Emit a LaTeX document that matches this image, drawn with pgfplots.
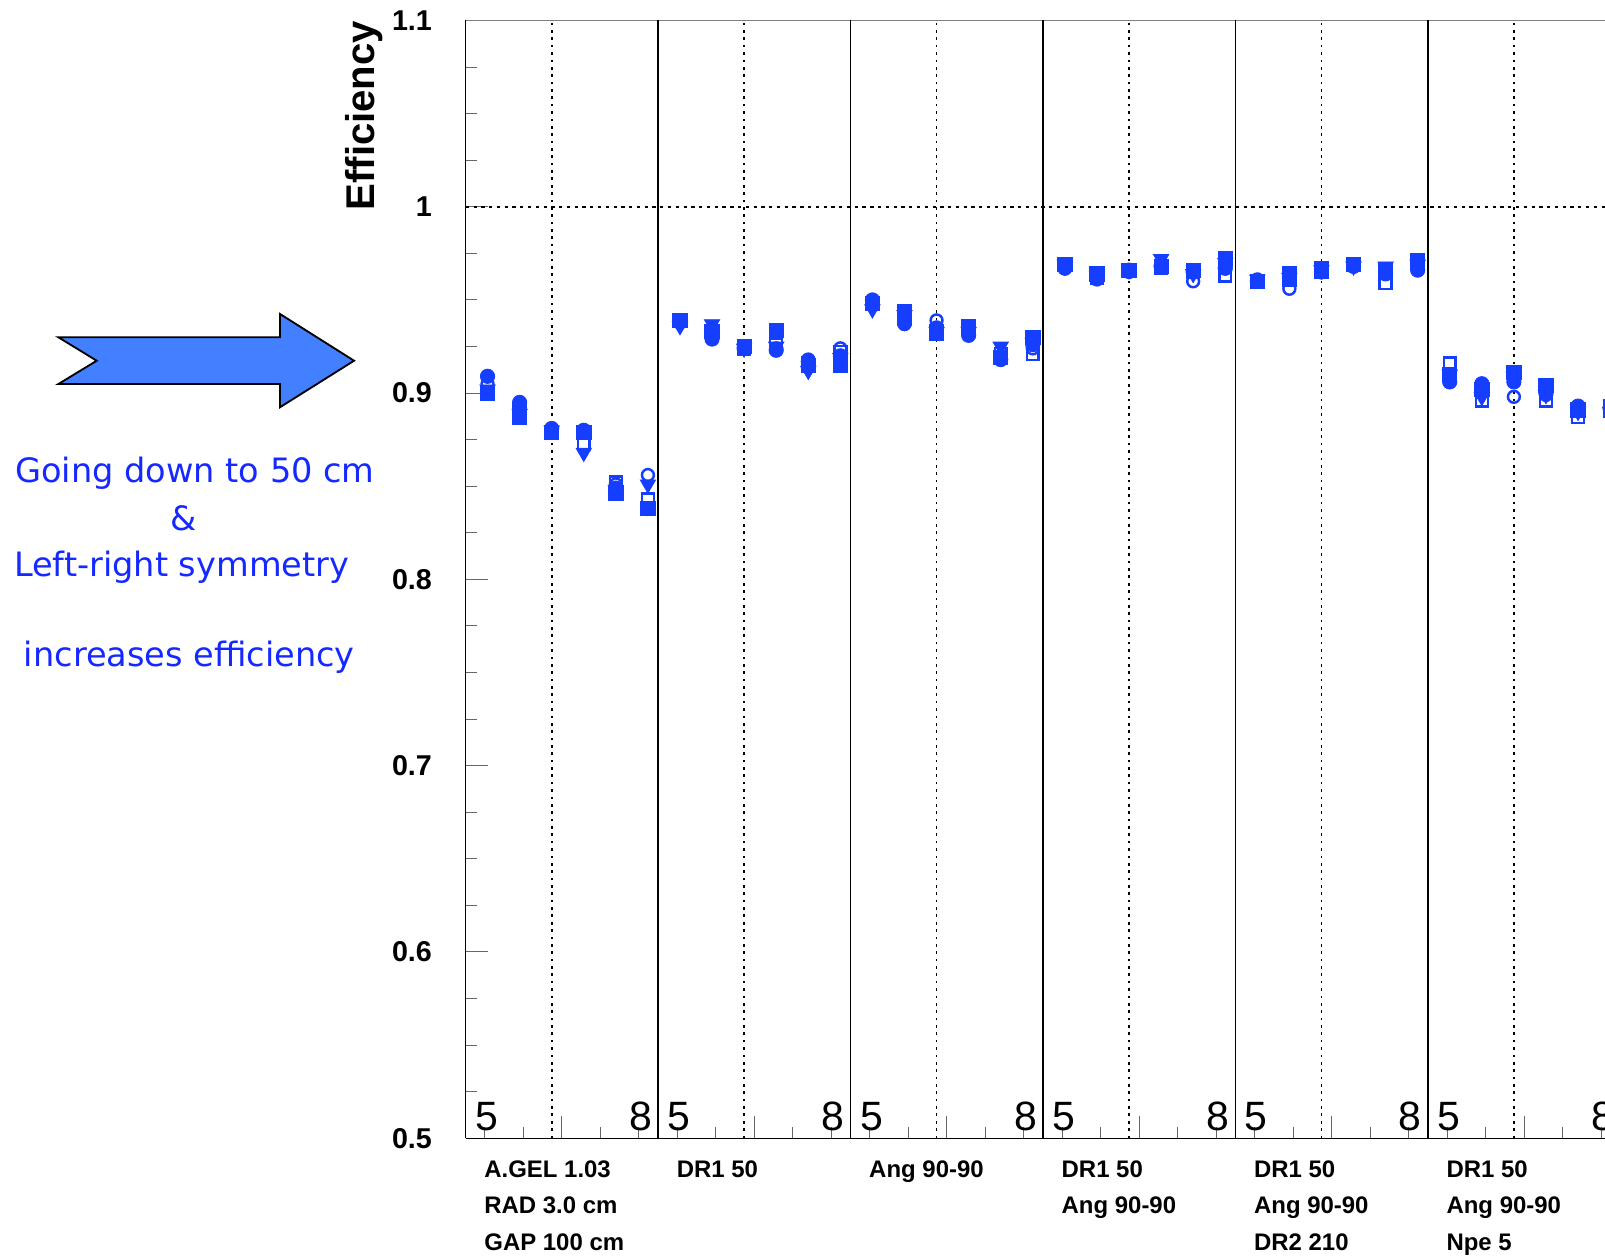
\documentclass[border=0pt]{standalone}
\usepackage{fontspec}
\setmainfont{Liberation Sans}
\newfontfamily\dejavu{DejaVu Sans}
\usepackage{pgfplots}
\usepackage{pgfplotstable}
\pgfplotsset{compat=1.18}
\definecolor{mk}{RGB}{22,62,255}
\definecolor{txtblue}{RGB}{20,40,255}
\definecolor{arrowblue}{RGB}{66,128,255}

\pgfplotstableread{
x      fc     fs     ft     oc     os
0.68   0.909  0.900  0.902  0.905  0.900
1.68   0.895  0.887  0.889  0.893  0.891
2.68   0.881  0.879  0.880  0.880  0.879
3.68   0.880  0.879  0.868  0.880  0.873
4.68   0.849  0.846  0.848  0.851  0.852
5.68   0.838  0.838  0.851  0.856  0.843
6.68   0.938  0.939  0.936  0.938  0.939
7.68   0.929  0.933  0.937  0.931  0.933
8.68   0.924  0.925  0.924  0.925  0.924
9.68   0.923  0.9335 0.925  0.924  0.926
10.68  0.917  0.915  0.912  0.918  0.916
11.68  0.920  0.915  0.919  0.924  0.922
12.68  0.950  0.948  0.945  0.949  0.948
13.68  0.938  0.944  0.942  0.937  0.940
14.68  0.935  0.932  0.933  0.939  0.933
15.68  0.931  0.935  0.933  0.934  0.936
16.68  0.918  0.919  0.925  0.918  0.921
17.68  0.926  0.930  0.927  0.924  0.921
18.68  0.967  0.969  0.969  0.968  0.969
19.68  0.963  0.964  0.963  0.961  0.962
20.68  0.966  0.966  0.966  0.965  0.966
21.68  0.968  0.968  0.972  0.969  0.967
22.68  0.965  0.966  0.964  0.960  0.965
23.68  0.967  0.972  0.970  0.967  0.963
24.68  0.960  0.960  0.961  0.961  0.960
25.68  0.962  0.964  0.962  0.956  0.961
26.68  0.965  0.967  0.966  0.966  0.965
27.68  0.968  0.969  0.968  0.968  0.969
28.68  0.964  0.966  0.968  0.965  0.959
29.68  0.966  0.971  0.969  0.967  0.970
30.68  0.906  0.910  0.910  0.908  0.916
31.68  0.905  0.902  0.898  0.904  0.896
32.68  0.906  0.911  0.909  0.898  0.908
33.68  0.900  0.904  0.899  0.899  0.896
34.68  0.893  0.891  0.890  0.892  0.887
35.68  0.892  0.891  0.890  0.891  0.893
}\data

\begin{document}
\begin{tikzpicture}
\useasboundingbox (-227.5pt,-58pt) rectangle (556.5pt,556pt);
\begin{axis}[
  at={(0,0)}, anchor=south west, scale only axis,
  width=564pt, height=546pt,
  xmin=0, xmax=36, ymin=0.5, ymax=1.1,
  axis line style={draw=none},
  xtick={3,9,15,21,27,33}, xticklabels={},
  minor xtick={0.6,1.8,...,35.4},
  ytick={0.5,0.6,0.7,0.8,0.9,1.0,1.1},
  yticklabels={0.5,0.6,0.7,0.8,0.9,1,1.1},
  minor y tick num=3,
  tick align=inside, xtick pos=bottom, ytick pos=left,
  major tick length=11pt, minor tick length=5.6pt,
  tick style={gray!80!black, line width=0.5pt},
  yticklabel style={font=\fontsize{14}{15}\selectfont\bfseries, xshift=-13pt},
  clip=false,
]
\draw[black, line width=0.6pt] (rel axis cs:0,0) -- (rel axis cs:0,1);
\draw[black, line width=0.6pt] (rel axis cs:0,0) -- (rel axis cs:1,0);
\draw[gray, line width=0.6pt] (rel axis cs:0,1) -- (rel axis cs:1,1);
\draw[black, line width=0.8pt] (axis cs:6,0.5) -- (axis cs:6,1.1);
\draw[black, line width=0.8pt] (axis cs:12,0.5) -- (axis cs:12,1.1);
\draw[black, line width=0.8pt] (axis cs:18,0.5) -- (axis cs:18,1.1);
\draw[black, line width=0.8pt] (axis cs:24,0.5) -- (axis cs:24,1.1);
\draw[black, line width=0.8pt] (axis cs:30,0.5) -- (axis cs:30,1.1);
\draw[black, line width=0.9pt, dash pattern=on 1.3pt off 2.3pt] (axis cs:2.68,0.5) -- (axis cs:2.68,1.1);
\draw[black, line width=0.9pt, dash pattern=on 1.3pt off 2.3pt] (axis cs:8.68,0.5) -- (axis cs:8.68,1.1);
\draw[black, line width=0.9pt, dash pattern=on 1.3pt off 2.3pt] (axis cs:14.68,0.5) -- (axis cs:14.68,1.1);
\draw[black, line width=0.9pt, dash pattern=on 1.3pt off 2.3pt] (axis cs:20.68,0.5) -- (axis cs:20.68,1.1);
\draw[black, line width=0.9pt, dash pattern=on 1.3pt off 2.3pt] (axis cs:26.68,0.5) -- (axis cs:26.68,1.1);
\draw[black, line width=0.9pt, dash pattern=on 1.3pt off 2.3pt] (axis cs:32.68,0.5) -- (axis cs:32.68,1.1);
\draw[black, line width=0.8pt, dash pattern=on 1.6pt off 2.2pt] (axis cs:0,1.0) -- (axis cs:36,1.0);

\addplot[only marks, mark=*, mark size=3.5pt, mark options={draw=mk, fill=mk}] table[x=x, y=fc]{\data};
\addplot[only marks, mark=square*, mark size=3.5pt, mark options={draw=mk, fill=mk}] table[x=x, y=fs]{\data};
\addplot[only marks, mark=triangle*, mark size=4.3pt, mark options={rotate=180, draw=mk, fill=mk}] table[x=x, y=ft]{\data};
\addplot[only marks, mark=o, mark size=2.9pt, mark options={draw=mk, line width=1.2pt}] table[x=x, y=oc]{\data};
\addplot[only marks, mark=square, mark size=2.9pt, mark options={draw=mk, line width=1.2pt}] table[x=x, y=os]{\data};
\end{axis}

% y axis title
\node[rotate=90, anchor=base east, inner sep=0pt, font=\fontsize{19.6}{20}\selectfont\bfseries] at (-44.5pt,546pt) {Efficiency};

% 5 / 8 labels
\foreach \k in {0,1,2,3,4,5}{
  \node[anchor=base, inner sep=0pt, font=\fontsize{20}{20}\selectfont] at ({94pt*\k+10.2pt},4pt) {5};
  \node[anchor=base, inner sep=0pt, font=\fontsize{20}{20}\selectfont] at ({94pt*\k+85.4pt},4pt) {8};
}

% panel labels
\tikzset{plab/.style={anchor=base west, inner sep=0pt, font=\fontsize{11.7}{12}\selectfont\bfseries}}
\node[plab] at (8.9pt,-19pt) {A.GEL 1.03};
\node[plab] at (8.9pt,-37pt) {RAD 3.0 cm};
\node[plab] at (8.9pt,-55pt) {GAP 100 cm};
\node[plab] at (102.9pt,-19pt) {DR1 50};
\node[plab] at (196.9pt,-19pt) {Ang 90-90};
\node[plab] at (290.9pt,-19pt) {DR1 50};
\node[plab] at (290.9pt,-37pt) {Ang 90-90};
\node[plab] at (384.9pt,-19pt) {DR1 50};
\node[plab] at (384.9pt,-37pt) {Ang 90-90};
\node[plab] at (384.9pt,-55pt) {DR2 210};
\node[plab] at (478.9pt,-19pt) {DR1 50};
\node[plab] at (478.9pt,-37pt) {Ang 90-90};
\node[plab] at (478.9pt,-55pt) {Npe 5};

% arrow
\draw[fill=arrowblue, draw=black, line width=0.9pt, line join=miter]
  (-199pt,391.25pt) -- (-90.75pt,391.25pt) -- (-90.75pt,402.65pt) -- (-54.55pt,379.8pt)
  -- (-90.75pt,357.05pt) -- (-90.75pt,368.4pt) -- (-199pt,368.4pt) -- (-180.25pt,379.8pt) -- cycle;

% annotation text
\tikzset{ann/.style={anchor=base, inner sep=0pt, text=txtblue, font=\dejavu\fontsize{16.4}{18}\selectfont}}
\node[ann] at (-132.25pt,320.2pt) {Going down to 50 cm};
\node[ann] at (-138pt,297.1pt) {\&};
\node[ann] at (-138.75pt,274.3pt) {Left-right symmetry};
\node[ann] at (-135pt,230.3pt) {increases efficiency};
\end{tikzpicture}
\end{document}
